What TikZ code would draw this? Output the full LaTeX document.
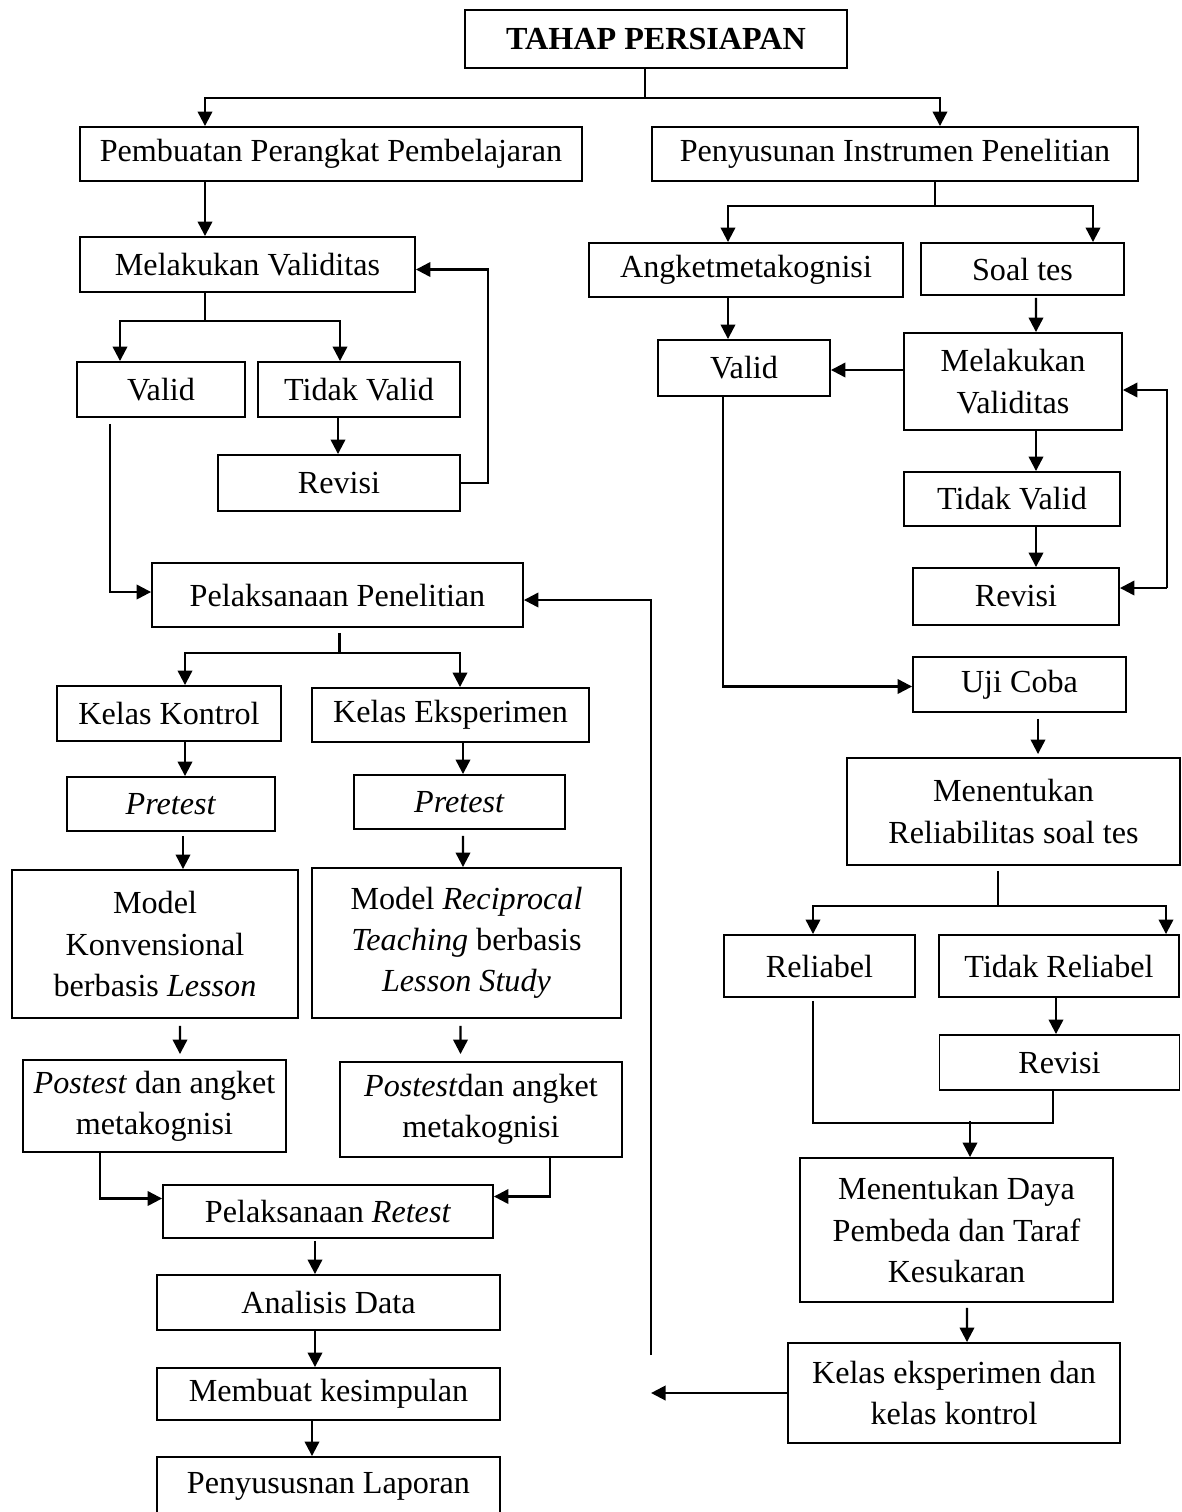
\documentclass[tikz,border=0pt]{standalone}
\usepackage{fontspec}
\setmainfont{Liberation Serif}
\usetikzlibrary{arrows.meta}
\usetikzlibrary{calc}

\begin{document}
\begin{tikzpicture}[x=0.02cm, y=-0.02cm,
    box/.style={draw, line width=1.1pt, inner sep=0pt, align=center, font=\fontsize{18.3}{23.5}\selectfont},
    ln/.style={line width=1.3pt},
    arr/.style={line width=1.3pt, -{Triangle[length=2.9mm, width=2.9mm]}}]
    % alur tahap persiapan
    \useasboundingbox (0,0) rectangle (1182,1512);
    \clip (0,0) rectangle (1182,1512);

    \node[box, minimum width=7.64cm, minimum height=1.16cm] (tahap) at (656,39) {\textbf{TAHAP PERSIAPAN}};
    \node[box, minimum width=10.04cm, minimum height=1.08cm] (pemb) at (331,154) {Pembuatan Perangkat Pembelajaran};
    \node[box, minimum width=9.72cm, minimum height=1.08cm] (penyu) at (895,154) {Penyusunan Instrumen Penelitian};

    % kiri
    \node[box, minimum width=6.7cm, minimum height=1.1cm] (melvalA) at (247.5,264.5) {Melakukan Validitas};
    \node[box, minimum width=3.36cm, minimum height=1.1cm] (validA) at (161,389.5) {Valid};
    \node[box, minimum width=4.04cm, minimum height=1.1cm] (tidakA) at (359,389.5) {Tidak Valid};
    \node[box, minimum width=4.84cm, minimum height=1.12cm] (revisiA) at (339,483) {Revisi};
    \node[box, minimum width=7.42cm, minimum height=1.28cm] (pelak) at (337.5,595) {Pelaksanaan Penelitian};
    \node[box, minimum width=4.48cm, minimum height=1.1cm] (kontrol) at (169,713.5) {Kelas Kontrol};
    \node[box, minimum width=5.54cm, minimum height=1.08cm] (eksp) at (450.5,715) {Kelas Eksperimen};
    \node[box, minimum width=4.16cm, minimum height=1.08cm] (preA) at (171,804) {\textit{Pretest}};
    \node[box, minimum width=4.22cm, minimum height=1.08cm] (preB) at (459.5,802) {\textit{Pretest}};
    \node[box, minimum width=5.72cm, minimum height=2.96cm] (konv) at (155,944) {Model\\Konvensional\\berbasis \textit{Lesson}};
    \node[box, minimum width=6.18cm, minimum height=3.0cm] (recip) at (466.5,943) {Model \textit{Reciprocal}\\\textit{Teaching} berbasis\\\textit{Lesson Study}};
    \node[box, minimum width=5.26cm, minimum height=1.84cm] (postA) at (154.5,1106) {\textit{Postest} dan angket\\metakognisi};
    \node[box, minimum width=5.64cm, minimum height=1.9cm] (postB) at (481,1109.5) {\textit{Postest}dan angket\\metakognisi};
    \node[box, minimum width=6.6cm, minimum height=1.06cm] (retest) at (328,1211.5) {Pelaksanaan \textit{Retest}};
    \node[box, minimum width=6.86cm, minimum height=1.1cm] (analisis) at (328.5,1302.5) {Analisis Data};
    \node[box, minimum width=6.86cm, minimum height=1.04cm] (simpul) at (328.5,1394) {Membuat kesimpulan};
    \node[box, minimum width=6.86cm, minimum height=1.16cm] (laporan) at (328.5,1486) {Penyususnan Laporan};

    % kanan
    \node[box, minimum width=6.28cm, minimum height=1.08cm] (angket) at (746,270) {Angketmetakognisi};
    \node[box, minimum width=4.06cm, minimum height=1.04cm] (soal) at (1022.5,269) {Soal tes};
    \node[box, minimum width=3.44cm, minimum height=1.12cm] (validB) at (744,368) {Valid};
    \node[box, minimum width=4.36cm, minimum height=1.94cm] (melvalB) at (1013,381.5) {Melakukan\\Validitas};
    \node[box, minimum width=4.32cm, minimum height=1.08cm] (tidakB) at (1012,499) {Tidak Valid};
    \node[box, minimum width=4.12cm, minimum height=1.14cm] (revisiB) at (1016,596.5) {Revisi};
    \node[box, minimum width=4.26cm, minimum height=1.1cm] (uji) at (1019.5,684.5) {Uji Coba};
    \node[box, minimum width=6.66cm, minimum height=2.14cm] (reliab) at (1013.5,811.5) {Menentukan\\Reliabilitas soal tes};
    \node[box, minimum width=3.82cm, minimum height=1.24cm] (rel) at (819.5,966) {Reliabel};
    \node[box, minimum width=4.8cm, minimum height=1.24cm] (tdkrel) at (1059,966) {Tidak Reliabel};
    \node[box, minimum width=4.8cm, minimum height=1.1cm] (revisiC) at (1059.5,1062.5) {Revisi};
    \node[box, minimum width=6.26cm, minimum height=2.88cm] (daya) at (956.5,1230) {Menentukan Daya\\Pembeda dan Taraf\\Kesukaran};
    \node[box, minimum width=6.64cm, minimum height=2.0cm] (kelas) at (954,1393) {Kelas eksperimen dan\\kelas kontrol};

    % panah atas
    \draw[ln] ($(tahap.south)+(-11,0)$) -- ++(0,29) coordinate (j1);
    \draw[arr] (j1) -| ($(pemb.north)+(-126,0)$);
    \draw[arr] (j1) -| ($(penyu.north)+(45,0)$);

    % panah kiri
    \draw[arr] ($(pemb.south)+(-126,0)$) -- ($(melvalA.north)+(-42.5,0)$);
    \draw[ln] ($(melvalA.south)+(-42.5,0)$) -- ++(0,28) coordinate (j2);
    \draw[arr] (j2) -| ($(validA.north)+(-41,0)$);
    \draw[arr] (j2) -| ($(tidakA.north)+(-19,0)$);
    \draw[arr] ($(tidakA.south)+(-21,0)$) -- ($(revisiA.north)+(-1,0)$);
    \draw[arr] (revisiA.east) -- ++(27,0) |- ($(melvalA.east)+(0,5)$);
    \draw[arr] ($(validA.south)+(-51,6)$) |- ($(pelak.west)+(0,-3)$);
    \draw[ln] ($(pelak.south)+(2,5)$) -- ++(0,20) coordinate (j3);
    \draw[arr] (j3) -| ($(kontrol.north)+(16,0)$);
    \draw[arr] (j3) -| ($(eksp.north)+(9.5,0)$);
    \draw[arr] ($(kontrol.south)+(16,0)$) -- ($(preA.north)+(14,0)$);
    \draw[arr] ($(eksp.south)+(12.5,0)$) -- ($(preB.north)+(3.5,0)$);
    \draw[arr] ($(preA.south)+(12,4)$) -- ($(konv.north)+(28,0)$);
    \draw[arr] ($(preB.south)+(3.5,6)$) -- ($(recip.north)+(-3.5,0)$);
    \draw[arr] ($(konv.south)+(25,7)$) -- ($(postA.north)+(25.5,-5)$);
    \draw[arr] ($(recip.south)+(-6,7)$) -- ($(postB.north)+(-20.5,-7)$);
    \draw[arr] ($(postA.south)+(-54.5,0)$) |- ($(retest.west)+(0,-13)$);
    \draw[arr] ($(postB.south)+(69,0)$) |- ($(retest.east)+(0,-15)$);
    \draw[arr] ($(retest.south)+(-13,2)$) -- ($(analisis.north)+(-13.5,0)$);
    \draw[arr] ($(analisis.south)+(-13.5,0)$) -- ($(simpul.north)+(-13.5,0)$);
    \draw[arr] ($(simpul.south)+(-16.5,0)$) -- ($(laporan.north)+(-16.5,0)$);

    % panah kanan
    \draw[ln] ($(penyu.south)+(40,0)$) -- ++(0,24) coordinate (j4);
    \draw[arr] (j4) -| ($(angket.north)+(-18,0)$);
    \draw[arr] (j4) -| ($(soal.north)+(70.5,0)$);
    \draw[arr] ($(angket.south)+(-18,0)$) -- ($(validB.north)+(-16,0)$);
    \draw[arr] ($(soal.south)+(13.5,2)$) -- ($(melvalB.north)+(23,0)$);
    \draw[arr] ($(melvalB.west)+(0,-11.5)$) -- ($(validB.east)+(0,2)$);
    \draw[arr] ($(melvalB.south)+(23,0)$) -- ($(tidakB.north)+(24,0)$);
    \draw[arr] ($(tidakB.south)+(24,0)$) -- ($(revisiB.north)+(20,0)$);
    \draw[arr] ($(revisiB.east)+(47,-8.5)$) coordinate (j5) |- ($(melvalB.east)+(0,8.5)$);
    \draw[arr] (j5) -- (j5 -| revisiB.east);
    \draw[arr] ($(validB.south)+(-21,0)$) |- ($(uji.west)+(0,2)$);
    \draw[arr] ($(uji.south)+(18.5,6)$) -- ($(reliab.north)+(24.5,-3)$);
    \draw[ln] ($(reliab.south)+(-15.5,5)$) -- ++(0,35) coordinate (j6);
    \draw[arr] (j6) -| ($(rel.north)+(-6.5,0)$);
    \draw[arr] (j6) -| ($(tdkrel.north)+(107,0)$);
    \draw[arr] ($(tdkrel.south)+(-3,0)$) -- ($(revisiC.north)+(-3.5,0)$);
    \draw[ln] ($(rel.south)+(-6.5,3)$) |- ($(revisiC.south)+(-6.5,32)$) -- (revisiC.south -| 1053,0);
    \coordinate (j7) at ($(daya.north)+(13.5,-36)$);
    \draw[arr] (j7) -- (j7 |- daya.north);
    \draw[arr] ($(daya.south)+(10.5,5)$) -- ($(kelas.north)+(13,0)$);

    % kembali ke pelaksanaan
    \draw[arr] (kelas.west) -- ++(-136,0);
    \draw[arr] ($(kelas.west)+(-136,-38)$) |- ($(pelak.east)+(0,5)$);
\end{tikzpicture}
\end{document}
